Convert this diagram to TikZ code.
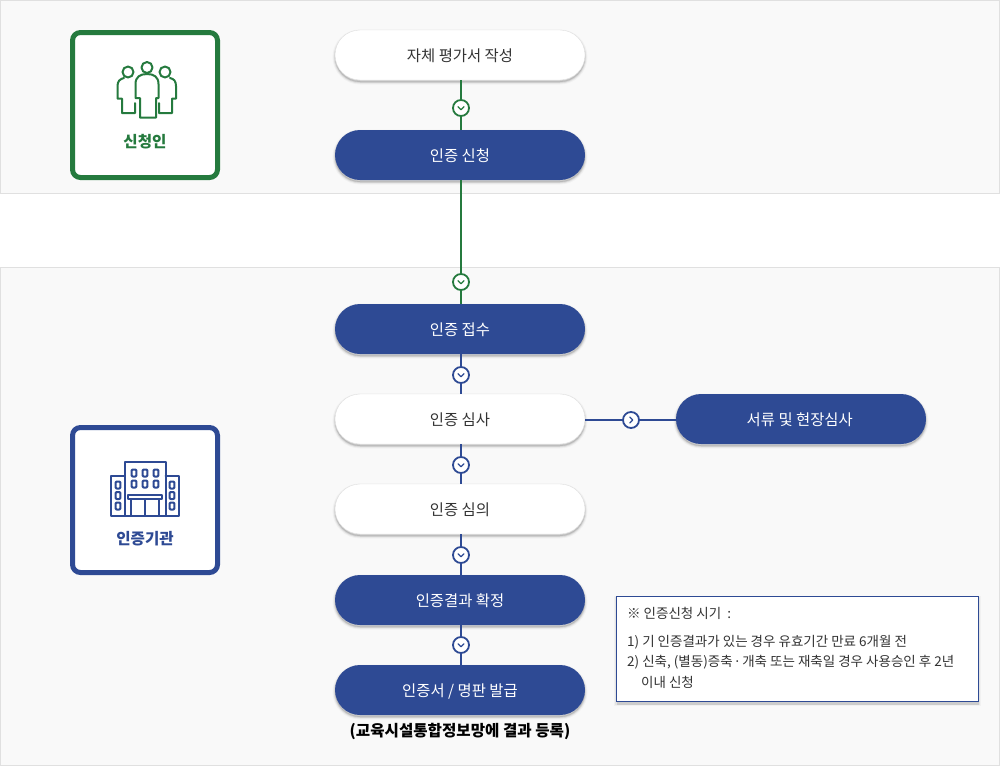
\documentclass[tikz,border=0pt]{standalone}
\usepackage{fontspec}
\setmainfont{Noto Sans CJK KR}
\definecolor{gr}{HTML}{257A3E}
\definecolor{bl}{HTML}{2E4A94}
\definecolor{panelbg}{HTML}{F9F9F9}
\definecolor{panelln}{HTML}{E0E0E0}
\definecolor{txt}{HTML}{333333}
\newcommand{\pilltext}[1]{\raisebox{-6pt}[0pt][0pt]{#1}}
\tikzset{
  softshadow/.style={
    preaction={draw=black,line width=5pt,opacity=.03,transform canvas={yshift=-2pt}},
    preaction={draw=black,line width=3pt,opacity=.05,transform canvas={yshift=-2pt}},
    preaction={draw=black,line width=1.5pt,opacity=.08,transform canvas={yshift=-2pt}},
    preaction={fill=black,opacity=.12,transform canvas={yshift=-2pt}}},
  pill/.style={softshadow,rectangle,rounded corners=25pt,minimum width=250pt,minimum height=50pt,inner sep=0pt,font=\fontsize{15.4}{15.4}\selectfont},
  whitepill/.style={pill,draw=panelln,fill=white,text=txt},
  bluepill/.style={pill,fill=bl,text=white},
  iconbox/.style={rectangle,draw,fill=white,line width=5pt,rounded corners=8pt,minimum size=145pt},
  iconlabel/.style={font=\fontsize{15.6}{15.6}\selectfont\bfseries,inner sep=0pt},
  iconline/.style={line width=2pt,line join=round,line cap=round},
  grline/.style={draw=gr,line width=2pt},
  blline/.style={draw=bl,line width=2pt},
  stepdot/.style={circle,draw,fill=white,line width=1.8pt,minimum size=16pt,inner sep=0pt},
  chev/.style={line width=1.3pt,line cap=round,line join=round},
  notetext/.style={font=\fontsize{13.5}{14}\selectfont,text=txt,anchor=west,inner sep=0pt}
}
\begin{document}
\begin{tikzpicture}[x=1pt,y=-1pt]
\useasboundingbox (0,0) rectangle (1000,766);
% panels
\fill[white] (0,0) rectangle (1000,766);
\draw[panelln,fill=panelbg] (0.5,0.5) rectangle (999.5,193);
\draw[panelln,fill=panelbg] (0.5,267.5) rectangle (999.5,765.5);
% icon boxes
\node[iconbox,draw=gr] (boxa) at (145,105) {};
\node[iconbox,draw=bl] (boxb) at (145,500) {};
\node[iconlabel,text=gr] (laba) at (145,141.5) {신청인};
\node[iconlabel,text=bl] (labb) at (145,539) {인증기관};
% people icon
\begin{scope}[iconline,draw=gr]
\draw (147,67.5) circle (5.5);
\draw (128,72) circle (5.5);
\draw (165,72) circle (5.5);
\draw (135.5,98) -- (135.5,84) .. controls (135.5,77) and (140,74) .. (147,74) .. controls (154,74) and (158.5,77) .. (158.5,84) -- (158.5,98) -- (156,98) -- (156,117.5) -- (140,117.5) -- (140,98) -- cycle;
\draw (124,78) .. controls (120,79) and (117.5,81) .. (117.5,86) -- (117.5,98.5) -- (122,98.5) -- (122,113) -- (135,113) -- (135,103);
\draw (170,78) .. controls (174,79) and (176,81) .. (176,86) -- (176,98.5) -- (172,98.5) -- (172,113) -- (159,113) -- (159,103);
\end{scope}
% building icon
\begin{scope}[iconline,draw=bl]
\draw (124.5,475.5) -- (111,475.5) -- (111,515.5) -- (179,515.5) -- (179,475.5) -- (165.5,475.5);
\draw (124.5,515.5) -- (124.5,462) -- (165.5,462) -- (165.5,515.5);
\draw (128,499) -- (128,495) -- (162,495) -- (162,499) -- cycle;
\draw (131,499) -- (131,515.5) (159,499) -- (159,515.5) (145,499) -- (145,515.5);
\foreach \xx in {134,145,156} \foreach \yy in {473,484}
  \draw[rounded corners=1pt] (\xx-2.4,\yy-3.5) rectangle (\xx+2.4,\yy+3.5);
\foreach \xx in {118,172} \foreach \yy in {485,495.5,506}
  \draw[rounded corners=1pt] (\xx-2.4,\yy-3.5) rectangle (\xx+2.4,\yy+3.5);
\end{scope}
% steps
\node[whitepill] (s1) at (460,55) {\pilltext{자체 평가서 작성}};
\node[bluepill] (s2) at (460,155) {\pilltext{인증 신청}};
\node[bluepill] (s3) at (460,329) {\pilltext{인증 접수}};
\node[whitepill] (s4) at (460,419) {\pilltext{인증 심사}};
\node[whitepill] (s5) at (460,509) {\pilltext{인증 심의}};
\node[bluepill] (s6) at (460,600) {\pilltext{인증결과 확정}};
\node[bluepill] (s7) at (460,690) {\pilltext{인증서 / 명판 발급}};
\node[bluepill] (s8) at (801,419) {\hspace{-2.5pt}\pilltext{서류 및 현장심사}};
\node[font=\fontsize{15.6}{15.6}\selectfont\bfseries,text=black,inner sep=0pt] (cap) at (460,731.7) {(교육시설통합정보망에 결과 등록)};
% step dots
\coordinate (c1) at (461,108);
\coordinate (c2) at (461,282);
\coordinate (c3) at (461,375);
\coordinate (c4) at (461,465);
\coordinate (c5) at (461,555);
\coordinate (c6) at (461,645);
\coordinate (c7) at (631,420);
\draw[grline] (s1.south -| c1) -- (s2.north -| c1);
\draw[grline] (s2.south -| c2) -- (s3.north -| c2);
\draw[blline] (s3.south -| c3) -- (s4.north -| c3);
\draw[blline] (s4.south -| c4) -- (s5.north -| c4);
\draw[blline] (s5.south -| c5) -- (s6.north -| c5);
\draw[blline] (s6.south -| c6) -- (s7.north -| c6);
\draw[blline] (s4.east |- c7) -- (s8.west |- c7);
\foreach \nm/\col in {c1/gr,c2/gr,c3/bl,c4/bl,c5/bl,c6/bl}{
  \node[stepdot,draw=\col] (d\nm) at (\nm) {};
  \draw[chev,draw=\col] ([shift={(-3,-1.3)}]\nm) -- ([shift={(0,1.7)}]\nm) -- ([shift={(3,-1.3)}]\nm);
}
\node[stepdot,draw=bl] (dc7) at (c7) {};
\draw[chev,draw=bl] ([shift={(-1.3,-3)}]c7) -- ([shift={(1.7,0)}]c7) -- ([shift={(-1.3,3)}]c7);
% note
\node[rectangle,draw=bl,fill=white,line width=1pt,minimum width=362pt,minimum height=105pt,inner sep=0pt,
  preaction={draw=black,line width=5pt,opacity=.03,transform canvas={yshift=-2pt}},
  preaction={draw=black,line width=3pt,opacity=.05,transform canvas={yshift=-2pt}},
  preaction={fill=black,opacity=.1,transform canvas={yshift=-3pt}}] (note) at (797.5,649) {};
\node[notetext] (n1) at (627,613.5) {※ 인증신청 시기\hspace{3pt} :};
\node[notetext] (n2) at (627,642.5) {1) 기 인증결과가 있는 경우 유효기간 만료 6개월 전};
\node[notetext] (n3) at (627,662.5) {2) 신축, (별동)증축\hspace{1pt}·\hspace{1pt}개축 또는 재축일 경우 사용승인 후 2년};
\node[notetext] (n4) at (641,682.5) {이내 신청};
\end{tikzpicture}
\end{document}
